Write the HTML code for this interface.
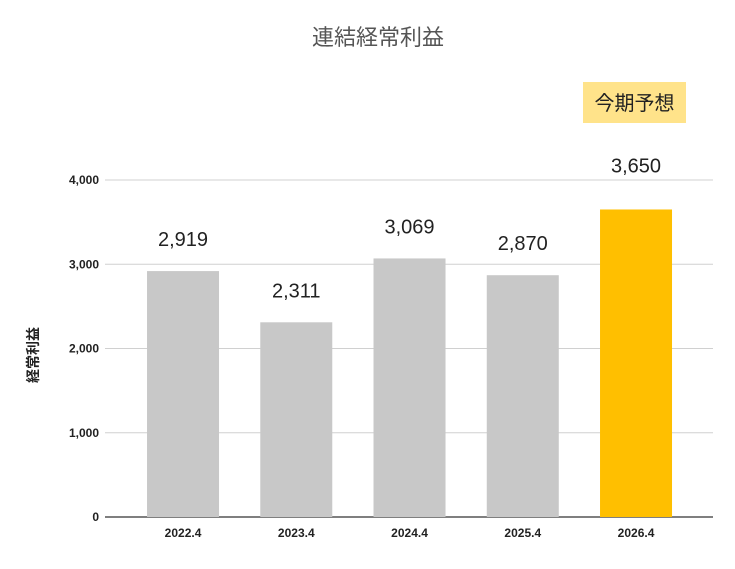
<!DOCTYPE html>
<html><head><meta charset="utf-8">
<style>
body{margin:0;background:#fff;}
svg text{font-family:"Liberation Sans","Noto Sans CJK JP",sans-serif;}
</style></head>
<body>
<svg id="chart" width="735" height="564" viewBox="0 0 735 564" xmlns="http://www.w3.org/2000/svg">
<rect width="735" height="564" fill="#fff"/>
<text x="378" y="45" text-anchor="middle" font-size="22" fill="#555">連結経常利益</text>
<rect x="583" y="82" width="103" height="41" fill="#FFE38A"/>
<text x="634.5" y="110" text-anchor="middle" font-size="20" fill="#222">今期予想</text>
<text transform="translate(38,355) rotate(-90)" text-anchor="middle" font-size="14" font-weight="bold" fill="#222">経常利益</text>
<g id="grid"></g><g id="bars"></g><g id="labels"></g>
</svg>
<script>
const categories=["2022.4","2023.4","2024.4","2025.4","2026.4"];
const values=[2919,2311,3069,2870,3650];
const valueLabels=["2,919","2,311","3,069","2,870","3,650"];
const yTicks=[0,1000,2000,3000,4000];
const yTickLabels=["0","1,000","2,000","3,000","4,000"];
const forecastIndex=4;
const NS="http://www.w3.org/2000/svg";
const x0=105,x1=713,y0=517,yTop=180,yMax=4000;
const bandStart=126.4,band=113.25,barW=72;
function y(v){return y0-(v/yMax)*(y0-yTop);}
function xc(i){return bandStart+band*(i+0.5);}
function mk(tag,attrs,parent,text){const e=document.createElementNS(NS,tag);for(const k in attrs)e.setAttribute(k,attrs[k]);if(text!==undefined)e.textContent=text;parent.appendChild(e);return e;}
const grid=document.getElementById('grid'),bars=document.getElementById('bars'),labels=document.getElementById('labels');
yTicks.forEach((t,i)=>{
 const l=mk('line',{x1:x0,x2:x1,y1:y(t),y2:y(t),stroke:t===0?'#333':'#d0d0d0','stroke-width':t===0?1.2:1},grid);
 
 
 const tx=mk('text',{x:99,y:y(t)+4,'text-anchor':'end','font-size':12,'font-weight':'bold',fill:'#222'},grid,yTickLabels[i]);
 
 
});
categories.forEach((c,i)=>{
 const v=values[i];
 const r=mk('rect',{x:xc(i)-barW/2,y:y(v),width:barW,height:y0-y(v),fill:i===forecastIndex?'#FFBF00':'#C8C8C8'},bars);
 
 
 const vl=mk('text',{x:xc(i),y:y(v)-(i===forecastIndex?37:25),'text-anchor':'middle','font-size':20,fill:'#222'},labels,valueLabels[i]);
 
 
 const xl=mk('text',{x:xc(i),y:537,'text-anchor':'middle','font-size':12,'font-weight':'bold',fill:'#222'},labels,c);
 
 
});
</script>
</body></html>
